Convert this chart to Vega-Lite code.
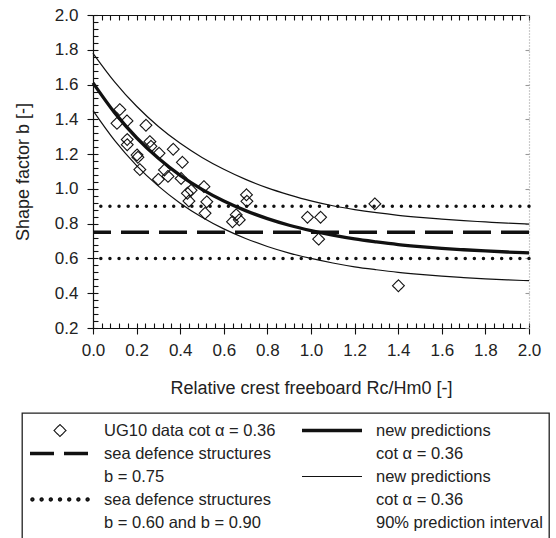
{
  "$schema": "https://vega.github.io/schema/vega-lite/v6.json",
  "width": 436,
  "height": 313,
  "autosize": {"type": "none"},
  "padding": {"left": 93, "top": 15, "right": 27, "bottom": 210},
  "background": "white",
  "config": {
    "view": {"stroke": null},
    "font": "Liberation Sans",
    "legend": {"strokeWidth": 1.3},
    "axis": {"grid": false, "domainColor": "#111", "tickColor": "#111", "labelColor": "#222", "titleColor": "#222", "labelFont": "Liberation Sans", "titleFont": "Liberation Sans", "titleFontWeight": "normal", "domainWidth": 1.2, "tickWidth": 1.1}
  },
  "datasets": {
    "ug10": [
      {"rc": 0.110, "b": 1.377}, {"rc": 0.123, "b": 1.456}, {"rc": 0.156, "b": 1.391}, {"rc": 0.157, "b": 1.284},
      {"rc": 0.157, "b": 1.254}, {"rc": 0.202, "b": 1.195}, {"rc": 0.206, "b": 1.182}, {"rc": 0.215, "b": 1.111},
      {"rc": 0.243, "b": 1.366}, {"rc": 0.261, "b": 1.272}, {"rc": 0.266, "b": 1.245}, {"rc": 0.303, "b": 1.205},
      {"rc": 0.300, "b": 1.055}, {"rc": 0.328, "b": 1.109}, {"rc": 0.344, "b": 1.072}, {"rc": 0.368, "b": 1.228},
      {"rc": 0.410, "b": 1.153}, {"rc": 0.404, "b": 1.060}, {"rc": 0.433, "b": 0.975}, {"rc": 0.450, "b": 0.992},
      {"rc": 0.440, "b": 0.930}, {"rc": 0.509, "b": 1.013}, {"rc": 0.522, "b": 0.926}, {"rc": 0.514, "b": 0.860},
      {"rc": 0.640, "b": 0.811}, {"rc": 0.657, "b": 0.851}, {"rc": 0.671, "b": 0.822}, {"rc": 0.704, "b": 0.966},
      {"rc": 0.706, "b": 0.929}, {"rc": 0.984, "b": 0.837}, {"rc": 1.044, "b": 0.837}, {"rc": 1.035, "b": 0.711},
      {"rc": 1.293, "b": 0.914}, {"rc": 1.401, "b": 0.443}
    ],
    "curves": [
      {"rc": 0.0, "b": 1.780, "curve": "upper"}, {"rc": 0.1, "b": 1.614, "curve": "upper"}, {"rc": 0.2, "b": 1.475, "curve": "upper"},
      {"rc": 0.3, "b": 1.359, "curve": "upper"}, {"rc": 0.4, "b": 1.262, "curve": "upper"}, {"rc": 0.5, "b": 1.181, "curve": "upper"},
      {"rc": 0.6, "b": 1.113, "curve": "upper"}, {"rc": 0.7, "b": 1.055, "curve": "upper"}, {"rc": 0.8, "b": 1.006, "curve": "upper"},
      {"rc": 0.9, "b": 0.966, "curve": "upper"}, {"rc": 1.0, "b": 0.931, "curve": "upper"}, {"rc": 1.1, "b": 0.903, "curve": "upper"},
      {"rc": 1.2, "b": 0.881, "curve": "upper"}, {"rc": 1.3, "b": 0.863, "curve": "upper"}, {"rc": 1.4, "b": 0.848, "curve": "upper"},
      {"rc": 1.5, "b": 0.836, "curve": "upper"}, {"rc": 1.6, "b": 0.826, "curve": "upper"}, {"rc": 1.7, "b": 0.817, "curve": "upper"},
      {"rc": 1.8, "b": 0.810, "curve": "upper"}, {"rc": 1.9, "b": 0.803, "curve": "upper"}, {"rc": 2.0, "b": 0.798, "curve": "upper"},
      {"rc": 0.0, "b": 1.610, "curve": "mean"}, {"rc": 0.1, "b": 1.437, "curve": "mean"}, {"rc": 0.2, "b": 1.294, "curve": "mean"},
      {"rc": 0.3, "b": 1.176, "curve": "mean"}, {"rc": 0.4, "b": 1.078, "curve": "mean"}, {"rc": 0.5, "b": 0.997, "curve": "mean"},
      {"rc": 0.6, "b": 0.930, "curve": "mean"}, {"rc": 0.7, "b": 0.875, "curve": "mean"}, {"rc": 0.8, "b": 0.829, "curve": "mean"},
      {"rc": 0.9, "b": 0.791, "curve": "mean"}, {"rc": 1.0, "b": 0.760, "curve": "mean"}, {"rc": 1.1, "b": 0.734, "curve": "mean"},
      {"rc": 1.2, "b": 0.712, "curve": "mean"}, {"rc": 1.3, "b": 0.695, "curve": "mean"}, {"rc": 1.4, "b": 0.680, "curve": "mean"},
      {"rc": 1.5, "b": 0.668, "curve": "mean"}, {"rc": 1.6, "b": 0.658, "curve": "mean"}, {"rc": 1.7, "b": 0.650, "curve": "mean"},
      {"rc": 1.8, "b": 0.643, "curve": "mean"}, {"rc": 1.9, "b": 0.637, "curve": "mean"}, {"rc": 2.0, "b": 0.632, "curve": "mean"},
      {"rc": 0.0, "b": 1.450, "curve": "lower"}, {"rc": 0.1, "b": 1.277, "curve": "lower"}, {"rc": 0.2, "b": 1.134, "curve": "lower"},
      {"rc": 0.3, "b": 1.016, "curve": "lower"}, {"rc": 0.4, "b": 0.918, "curve": "lower"}, {"rc": 0.5, "b": 0.837, "curve": "lower"},
      {"rc": 0.6, "b": 0.770, "curve": "lower"}, {"rc": 0.7, "b": 0.715, "curve": "lower"}, {"rc": 0.8, "b": 0.669, "curve": "lower"},
      {"rc": 0.9, "b": 0.631, "curve": "lower"}, {"rc": 1.0, "b": 0.600, "curve": "lower"}, {"rc": 1.1, "b": 0.574, "curve": "lower"},
      {"rc": 1.2, "b": 0.552, "curve": "lower"}, {"rc": 1.3, "b": 0.535, "curve": "lower"}, {"rc": 1.4, "b": 0.520, "curve": "lower"},
      {"rc": 1.5, "b": 0.508, "curve": "lower"}, {"rc": 1.6, "b": 0.498, "curve": "lower"}, {"rc": 1.7, "b": 0.490, "curve": "lower"},
      {"rc": 1.8, "b": 0.483, "curve": "lower"}, {"rc": 1.9, "b": 0.477, "curve": "lower"}, {"rc": 2.0, "b": 0.472, "curve": "lower"}
    ],
    "hlines": [
      {"b": 0.75, "kind": "sea defence structures b = 0.75"},
      {"b": 0.60, "kind": "sea defence structures b = 0.60"},
      {"b": 0.90, "kind": "sea defence structures b = 0.90"}
    ]
  },
  "resolve": {"axis": {"x": "independent", "y": "independent"}},
  "layer": [
    {
      "data": {"name": "hlines"},
      "transform": [{"filter": "datum.b === 0.75"}],
      "mark": {"type": "rule", "stroke": "#111", "strokeWidth": 3.5, "strokeDash": [28, 10]},
      "encoding": {"y": {"field": "b", "type": "quantitative", "scale": {"domain": [0.2, 2.0], "nice": false, "zero": false}, "axis": null}}
    },
    {
      "data": {"name": "hlines"},
      "transform": [{"filter": "datum.b !== 0.75"}],
      "mark": {"type": "rule", "stroke": "#111", "strokeWidth": 3.5, "strokeDash": [0.01, 9.1], "strokeCap": "round"},
      "encoding": {"y": {"field": "b", "type": "quantitative", "axis": null}}
    },
    {
      "data": {"name": "curves"},
      "transform": [{"filter": "datum.curve === 'upper'"}],
      "mark": {"type": "line", "stroke": "#111", "strokeWidth": 1.2, "interpolate": "monotone"},
      "encoding": {
        "x": {"field": "rc", "type": "quantitative", "scale": {"domain": [0, 2], "nice": false, "zero": false},
          "axis": {"orient": "bottom", "values": [0,0.04,0.08,0.12,0.16,0.2,0.24,0.28,0.32,0.36,0.4,0.44,0.48,0.52,0.56,0.6,0.64,0.68,0.72,0.76,0.8,0.84,0.88,0.92,0.96,1,1.04,1.08,1.12,1.16,1.2,1.24,1.28,1.32,1.36,1.4,1.44,1.48,1.52,1.56,1.6,1.64,1.68,1.72,1.76,1.8,1.84,1.88,1.92,1.96,2], "tickSize": -5, "labels": false, "domain": false, "title": null}},
        "y": {"field": "b", "type": "quantitative",
          "axis": {"orient": "left", "values": [0.2,0.24,0.28,0.32,0.36,0.4,0.44,0.48,0.52,0.56,0.6,0.64,0.68,0.72,0.76,0.8,0.84,0.88,0.92,0.96,1,1.04,1.08,1.12,1.16,1.2,1.24,1.28,1.32,1.36,1.4,1.44,1.48,1.52,1.56,1.6,1.64,1.68,1.72,1.76,1.8,1.84,1.88,1.92,1.96,2], "tickSize": -5, "labels": false, "domain": false, "title": null}}
      }
    },
    {
      "data": {"name": "curves"},
      "transform": [{"filter": "datum.curve === 'mean'"}],
      "mark": {"type": "line", "stroke": "#111", "strokeWidth": 3.3, "interpolate": "monotone"},
      "encoding": {
        "x": {"field": "rc", "type": "quantitative",
          "axis": {"orient": "top", "values": [0,0.04,0.08,0.12,0.16,0.2,0.24,0.28,0.32,0.36,0.4,0.44,0.48,0.52,0.56,0.6,0.64,0.68,0.72,0.76,0.8,0.84,0.88,0.92,0.96,1,1.04,1.08,1.12,1.16,1.2,1.24,1.28,1.32,1.36,1.4,1.44,1.48,1.52,1.56,1.6,1.64,1.68,1.72,1.76,1.8,1.84,1.88,1.92,1.96,2], "tickSize": -5, "labels": false, "domain": true, "title": null}},
        "y": {"field": "b", "type": "quantitative",
          "axis": {"orient": "right", "values": [0.2,0.4,0.6,0.8,1.0,1.2,1.4,1.6,1.8,2.0], "tickSize": -4, "labels": false, "domain": true, "domainColor": "#999", "domainDash": [1, 2], "tickColor": "#999", "title": null}}
      }
    },
    {
      "data": {"name": "curves"},
      "transform": [{"filter": "datum.curve === 'lower'"}],
      "mark": {"type": "line", "stroke": "#111", "strokeWidth": 1.2, "interpolate": "monotone"},
      "encoding": {
        "x": {"field": "rc", "type": "quantitative", "axis": null},
        "y": {"field": "b", "type": "quantitative", "axis": null}
      }
    },
    {
      "data": {"name": "ug10"},
      "mark": {"type": "point", "filled": false, "stroke": "#111", "size": 3500, "opacity": 1},
      "encoding": {
        "x": {"field": "rc", "type": "quantitative",
          "axis": {"orient": "bottom", "values": [0,0.2,0.4,0.6,0.8,1.0,1.2,1.4,1.6,1.8,2.0], "format": ".1f", "tickSize": 6, "labelFontSize": 17, "labelPadding": 8, "labelFlush": false,
            "title": "Relative crest freeboard Rc/Hm0 [-]", "titleFontSize": 18, "titlePadding": 21}},
        "y": {"field": "b", "type": "quantitative",
          "axis": {"orient": "left", "values": [0.2,0.4,0.6,0.8,1.0,1.2,1.4,1.6,1.8,2.0], "format": ".1f", "tickSize": 6, "labelFontSize": 17, "labelPadding": 9, "labelFlush": false,
            "title": "Shape factor b [-]", "titleFontSize": 18, "titlePadding": 22}},
        "shape": {
          "datum": "UG10 data cot α = 0.36",
          "type": "nominal",
          "scale": {
            "type": "ordinal",
            "domain": ["UG10 data cot α = 0.36", "sea defence structures", "b = 0.75", "sea defence structures ", "b = 0.60 and b = 0.90", "new predictions", "cot α = 0.36", "new predictions ", "cot α = 0.36 ", "90% prediction interval"],
            "range": ["M-0.2,0L0,-0.2L0.2,0L0,0.2Z", "stroke", "stroke", "M-0.96,0A0.04,0.04 0 1,0 -0.88,0A0.04,0.04 0 1,0 -0.96,0ZM-0.653,0A0.04,0.04 0 1,0 -0.573,0A0.04,0.04 0 1,0 -0.653,0ZM-0.347,0A0.04,0.04 0 1,0 -0.267,0A0.04,0.04 0 1,0 -0.347,0ZM-0.04,0A0.04,0.04 0 1,0 0.04,0A0.04,0.04 0 1,0 -0.04,0ZM0.267,0A0.04,0.04 0 1,0 0.347,0A0.04,0.04 0 1,0 0.267,0ZM0.573,0A0.04,0.04 0 1,0 0.653,0A0.04,0.04 0 1,0 0.573,0ZM0.88,0A0.04,0.04 0 1,0 0.96,0A0.04,0.04 0 1,0 0.88,0Z", "stroke", "stroke", "stroke", "stroke", "stroke", "stroke"]
          },
          "legend": {
            "orient": "none", "legendX": -71, "legendY": 398,
            "columns": 2, "columnPadding": 24, "rowPadding": 0, "clipHeight": 23,
            "symbolSize": 3600, "padding": 6, "strokeColor": "#222", "title": null,
            "labelFont": "Liberation Sans", "labelFontSize": 16.5, "labelColor": "#222", "labelLimit": 400, "labelOffset": 12,
            "labelExpr": "trim(datum.label)"
          }
        },
        "strokeWidth": {
          "datum": "UG10 data cot α = 0.36",
          "type": "nominal",
          "scale": {
            "type": "ordinal",
            "domain": ["UG10 data cot α = 0.36", "sea defence structures", "b = 0.75", "sea defence structures ", "b = 0.60 and b = 0.90", "new predictions", "cot α = 0.36", "new predictions ", "cot α = 0.36 ", "90% prediction interval"],
            "range": [1.1, 3.5, 0, 2, 0, 3.5, 0, 1.2, 0, 0]
          }
        },
        "strokeDash": {
          "datum": "UG10 data cot α = 0.36",
          "type": "nominal",
          "scale": {
            "type": "ordinal",
            "domain": ["UG10 data cot α = 0.36", "sea defence structures", "b = 0.75", "sea defence structures ", "b = 0.60 and b = 0.90", "new predictions", "cot α = 0.36", "new predictions ", "cot α = 0.36 ", "90% prediction interval"],
            "range": [[1, 0], [24, 10], [1, 0], [1, 0], [1, 0], [1, 0], [1, 0], [1, 0], [1, 0], [1, 0]]
          }
        }
      }
    }
  ]
}
